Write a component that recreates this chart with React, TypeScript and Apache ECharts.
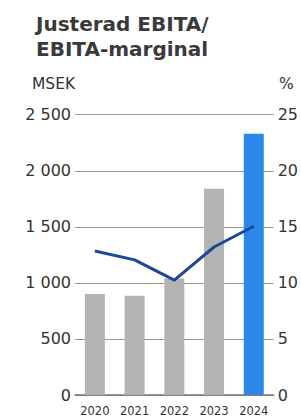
import React, { useEffect, useRef } from "react";
import * as echarts from "echarts";

const categories = ["2020", "2021", "2022", "2023", "2024"];
const ebita = [900, 885, 1040, 1840, 2330];
const margin = [12.85, 12.05, 10.25, 13.2, 15.05];
const leftTicks = [0, 500, 1000, 1500, 2000, 2500];
const rightTicks = [0, 5, 10, 15, 20, 25];

const FONT = "DejaVu Sans";

export default function App() {
  const ref = useRef<HTMLDivElement>(null);
  useEffect(() => {
    if (!ref.current) return;
    const chart = echarts.init(ref.current, undefined, { renderer: "svg" });
    const fmt = (v: number) => {
      const s = String(Math.round(v));
      return s.length > 3 ? s.slice(0, s.length - 3) + " " + s.slice(s.length - 3) : s;
    };
    chart.setOption({
      animation: false,
      backgroundColor: "#ffffff",
      textStyle: { fontFamily: FONT },
      title: {
        text: "Justerad EBITA/\nEBITA-marginal",
        left: 31,
        top: 6,
        textStyle: {
          fontFamily: FONT,
          fontSize: 20,
          fontWeight: "bold",
          color: "#3a3a3a",
          lineHeight: 25,
        },
      },
      graphic: [
        {
          type: "text",
          left: 32,
          top: 76,
          style: { text: "MSEK", fontFamily: FONT, fontSize: 15.5, fill: "#333" },
        },
        {
          type: "text",
          left: 279,
          top: 76,
          style: { text: "%", fontFamily: FONT, fontSize: 15.5, fill: "#333" },
        },
      ],
      grid: { left: 75, right: 27, top: 114.7, bottom: 20.3, containLabel: false },
      xAxis: {
        type: "category",
        data: categories,
        axisTick: { show: false },
        axisLine: { lineStyle: { color: "#777", width: 1.5 } },
        axisLabel: {
          color: "#333",
          fontSize: 11.5,
          margin: 10,
          interval: 0,
          hideOverlap: false,
          fontFamily: FONT,
        },
      },
      yAxis: [
        {
          type: "value",
          min: leftTicks[0],
          max: leftTicks[leftTicks.length - 1],
          interval: 500,
          axisLabel: { color: "#333", fontSize: 16, margin: 4, formatter: fmt, fontFamily: FONT },
          splitLine: { lineStyle: { color: "#999", width: 1 } },
          axisLine: { show: false },
          axisTick: { show: false },
        },
        {
          type: "value",
          min: rightTicks[0],
          max: rightTicks[rightTicks.length - 1],
          interval: 5,
          position: "right",
          axisLabel: { color: "#333", fontSize: 16, margin: 4, fontFamily: FONT },
          splitLine: { show: false },
          axisLine: { show: false },
          axisTick: { show: false },
        },
      ],
      series: [
        {
          type: "bar",
          data: ebita.map((v, i) => ({
            value: v,
            itemStyle: { color: i === ebita.length - 1 ? "#2b87e8" : "#b3b3b3" },
          })),
          barWidth: 20,
          yAxisIndex: 0,
        },
        {
          type: "line",
          data: margin,
          yAxisIndex: 1,
          symbol: "none",
          lineStyle: { color: "#1b4997", width: 3 },
        },
      ],
    });
    return () => chart.dispose();
  }, []);
  return (
    <div
      ref={ref}
      style={{ position: "fixed", left: 0, top: 0, width: 301, height: 417 }}
    />
  );
}
